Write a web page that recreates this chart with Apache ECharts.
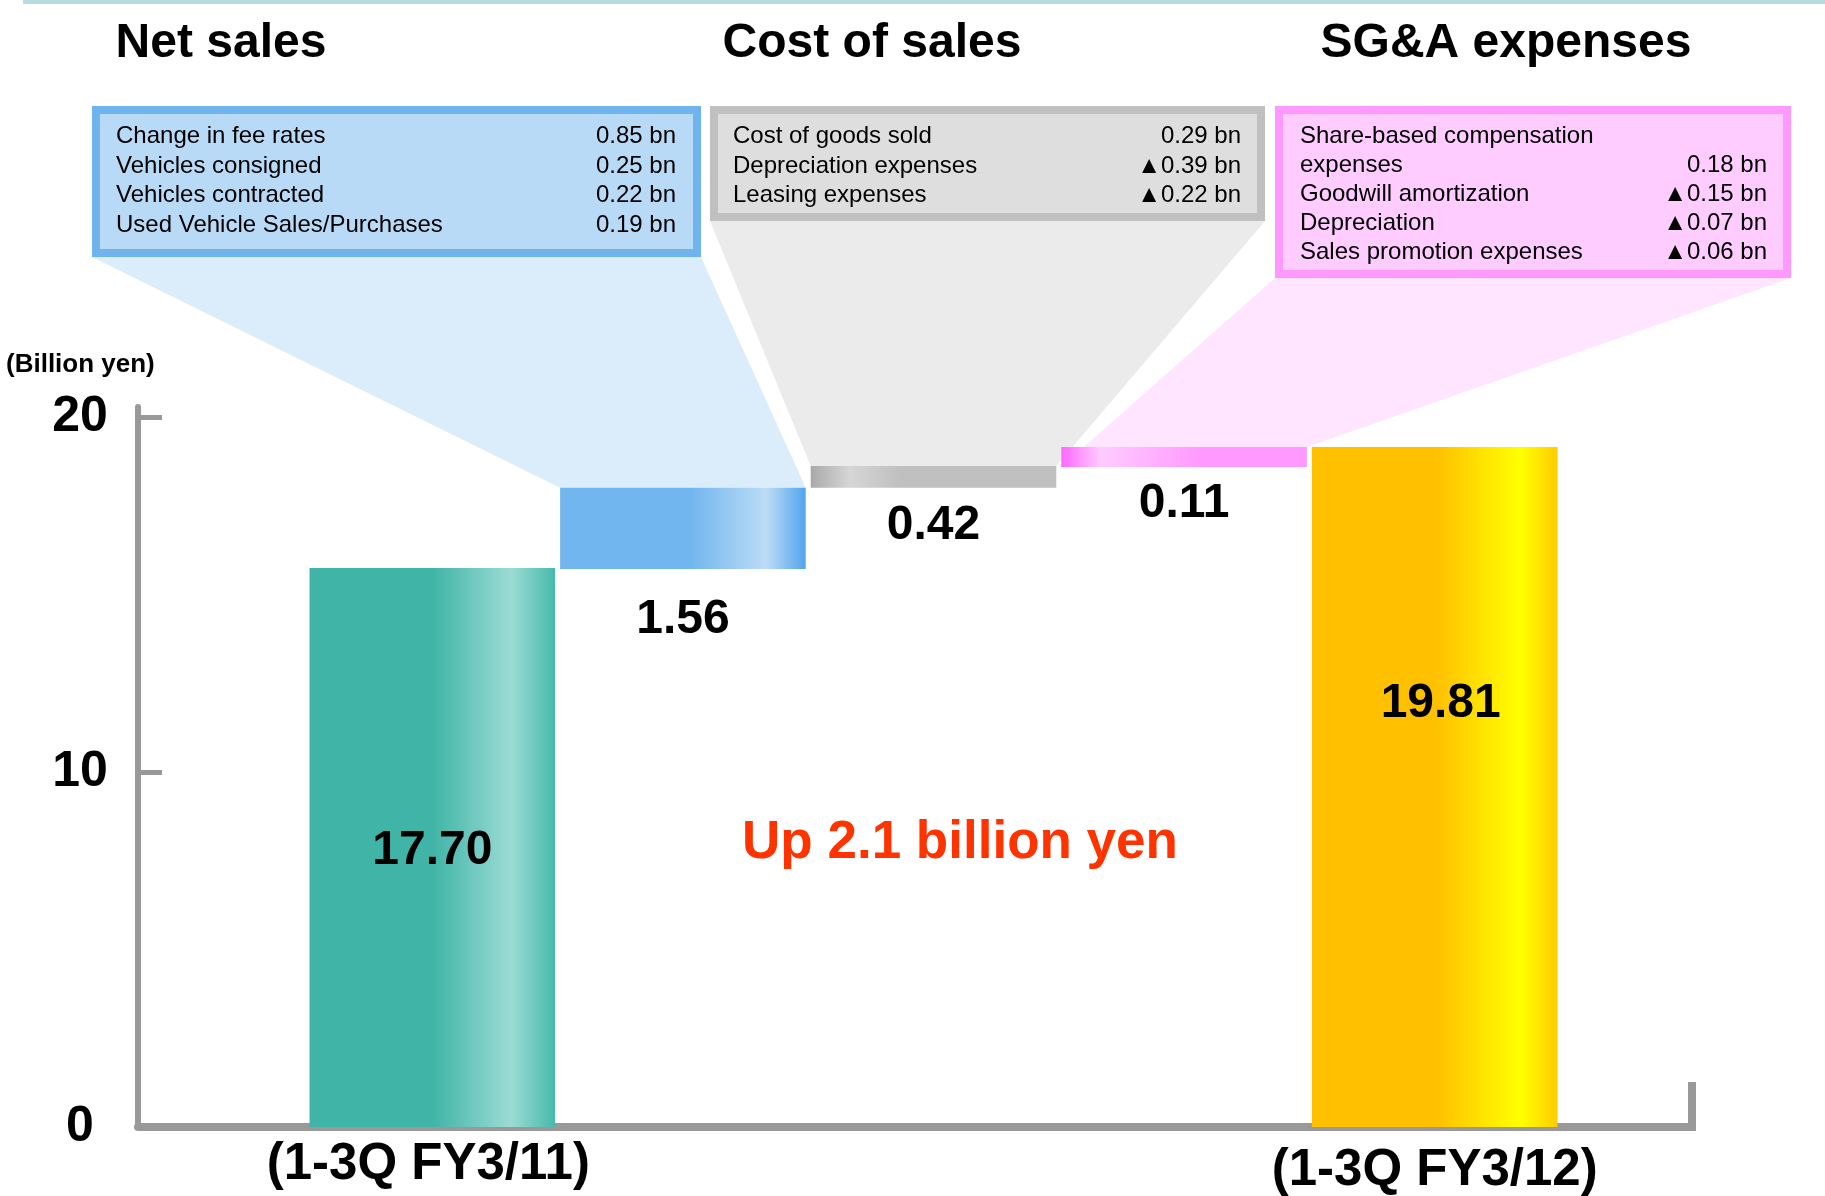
<!DOCTYPE html>
<html>
<head>
<meta charset="utf-8">
<script src="https://cdn.jsdelivr.net/npm/echarts@6/dist/echarts.min.js"></script>
<style>
html,body{margin:0;padding:0;background:#fff;}
#c{width:1825px;height:1196px;}
</style>
</head>
<body>
<div id="c"></div>
<script>
// ---------------- DATA ----------------
const categories = ['(1-3Q FY3/11)', 'Net sales', 'Cost of sales', 'SG&A expenses', '(1-3Q FY3/12)'];
const valueLabels = ['17.70', '1.56', '0.42', '0.11', '19.81'];
// bar extents as drawn in the picture (the picture is not drawn to scale)
const barBase   = [0, 15.73, 18.02, 18.61, 0];
const barLength = [15.76, 2.29, 0.62, 0.56, 19.17];
const yTicks = [0, 10, 20];
const unitLabel = '(Billion yen)';
const summaryText = 'Up 2.1 billion yen';
const panelTitles = ['Net sales', 'Cost of sales', 'SG&A expenses'];
const netSalesItems = [
  ['Change in fee rates', '0.85 bn'],
  ['Vehicles consigned', '0.25 bn'],
  ['Vehicles contracted', '0.22 bn'],
  ['Used Vehicle Sales/Purchases', '0.19 bn']
];
const costItems = [
  ['Cost of goods sold', '0.29 bn'],
  ['Depreciation expenses', '\u25B20.39 bn'],
  ['Leasing expenses', '\u25B20.22 bn']
];
const sgaItems = [
  ['Share-based compensation', ''],
  ['expenses', '0.18 bn'],
  ['Goodwill amortization', '\u25B20.15 bn'],
  ['Depreciation', '\u25B20.07 bn'],
  ['Sales promotion expenses', '\u25B20.06 bn']
];

// ---------------- STYLE ----------------
const FF = '"Liberation Sans", Arial, Helvetica, sans-serif';
function lg(stops){ return {type:'linear',x:0,y:0,x2:1,y2:0,colorStops:stops.map(s=>({offset:s[0],color:s[1]}))}; }
const barColors = [
  lg([[0,'#3fb4a7'],[0.5,'#40b4a7'],[0.82,'#9bdcd4'],[1,'#48b9ab']]),
  lg([[0,'#72b6ef'],[0.53,'#72b6ef'],[0.84,'#bcdcf6'],[1,'#52a4ec']]),
  lg([[0,'#a9a9a9'],[0.16,'#d6d6d6'],[0.36,'#c0c0c0'],[1,'#c0c0c0']]),
  lg([[0,'#ff66ff'],[0.16,'#ffccff'],[0.57,'#ff99ff'],[1,'#ff99ff']]),
  lg([[0,'#ffc000'],[0.5,'#ffc000'],[0.85,'#ffff00'],[1,'#ffcc00']])
];
const labelConf = [
  {position:'inside', offset:[0,3]},
  {position:'bottom', distance:26.5},
  {position:'bottom', distance:14},
  {position:'bottom', distance:13},
  {position:'insideTop', distance:233, offset:[6,0]}
];

const chart = echarts.init(document.getElementById('c'), null, {renderer:'canvas'});
const GT = 407, GB = 69;
chart.setOption({
  animation:false,
  backgroundColor:'#ffffff',
  grid:[
    {left:138, right:133, top:GT, bottom:GB, outerBoundsMode:'none', containLabel:false},
    {left:307, right:265, top:GT, bottom:GB, outerBoundsMode:'none', containLabel:false}
  ],
  xAxis:[
    {gridIndex:0, type:'value', min:0, max:1,
     axisLine:{show:true, onZero:false, lineStyle:{color:'#999999', width:8}},
     axisTick:{show:false}, axisLabel:{show:false}, splitLine:{show:false}},
    {gridIndex:1, type:'category', data:categories,
     axisLine:{show:false}, axisTick:{show:false},
     axisLabel:{interval:0, margin:12,
       formatter:function(v, i){ return i===0 ? '{a|'+v+'}' : (i===categories.length-1 ? '{b|'+v+'}' : ''); },
       rich:{
         a:{fontSize:51, fontWeight:'bold', color:'#000', fontFamily:FF, padding:[0,8,0,0]},
         b:{fontSize:51, fontWeight:'bold', color:'#000', fontFamily:FF, padding:[6,0,0,0]}
       }},
     splitLine:{show:false}}
  ],
  yAxis:[
    {gridIndex:0, type:'value', min:0, max:20.3,
     axisLine:{show:true, lineStyle:{color:'#999999', width:6}},
     axisTick:{show:true, inside:true, length:24, customValues:yTicks, lineStyle:{color:'#999999', width:5}},
     axisLabel:{customValues:yTicks, margin:58, align:'center', fontSize:50, fontWeight:'bold', color:'#000', fontFamily:FF},
     splitLine:{show:false}},
    {gridIndex:1, type:'value', min:0, max:20.3, show:false, splitLine:{show:false}}
  ],
  series:[
    {type:'bar', name:'base', xAxisIndex:1, yAxisIndex:1, stack:'w', silent:true,
     barCategoryGap:'2%', itemStyle:{color:'rgba(0,0,0,0)'}, data:barBase},
    {type:'bar', name:'value', xAxisIndex:1, yAxisIndex:1, stack:'w', z:3,
     barCategoryGap:'2%',
     label:{show:true, fontSize:48, fontWeight:'bold', color:'#000', fontFamily:FF,
            formatter:function(p){ return valueLabels[p.dataIndex]; }},
     data:barLength.map(function(v,i){ return {value:v, itemStyle:{color:barColors[i]}, label:labelConf[i]}; })}
  ]
});

// ---------------- DECORATION (boxes, funnels, texts) ----------------
function px(i, v){ return chart.convertToPixel({gridIndex:1}, [i, v]); }
const band = px(1,0)[0] - px(0,0)[0];
const half = band * 0.98 / 2;
function barRect(i){
  const cx = px(i,0)[0];
  return {x0:cx-half, x1:cx+half, yTop:px(i, barBase[i]+barLength[i])[1], yBot:px(i, barBase[i])[1]};
}
const bBlue = barRect(1), bGray = barRect(2), bPink = barRect(3);

const boxes = [
  {x0:92, x1:701, y0:106, y1:257, fill:'#b8daf6', stroke:'#70b4ee', funnel:'#dbecfa', items:netSalesItems, tx0:116, tx1:676, rows:[136.5,166,195.5,225.5]},
  {x0:710, x1:1265, y0:106, y1:221, fill:'#dedede', stroke:'#c0c0c0', funnel:'#ebebeb', items:costItems, tx0:733, tx1:1241, rows:[136.5,166,195.5]},
  {x0:1275, x1:1791, y0:106, y1:278, fill:'#ffccff', stroke:'#ff99ff', funnel:'rgba(255,204,255,0.5)', items:sgaItems, tx0:1300, tx1:1767, rows:[136.5,165.5,194.5,223.5,252.5]}
];
const funnelBottoms = [
  [[bBlue.x1, bBlue.yTop],[bBlue.x0, bBlue.yTop]],
  [[bGray.x1, bGray.yTop],[bGray.x0, bGray.yTop]],
  [[bPink.x1, bPink.yTop],[bPink.x0, bPink.yBot]]
];
const titleX = [221, 872, 1506];

const els = [];
els.push({type:'rect', shape:{x:23, y:0, width:1802, height:4}, style:{fill:'#b7dde0'}, z:0});
boxes.forEach(function(b, k){
  els.push({type:'polygon', z:0, shape:{points:[[b.x0,b.y1],[b.x1,b.y1],funnelBottoms[k][0],funnelBottoms[k][1]]}, style:{fill:b.funnel}});
});
boxes.forEach(function(b, k){
  els.push({type:'rect', z:10, shape:{x:b.x0+4, y:b.y0+4, width:b.x1-b.x0-8, height:b.y1-b.y0-8}, style:{fill:b.fill, stroke:b.stroke, lineWidth:8}});
  b.items.forEach(function(it, r){
    els.push({type:'text', z:11, x:b.tx0, y:b.rows[r], style:{text:it[0], fontSize:24, fontFamily:FF, fill:'#000', align:'left', verticalAlign:'middle'}});
    if (it[1]) els.push({type:'text', z:11, x:b.tx1, y:b.rows[r], style:{text:it[1], fontSize:24, fontFamily:FF, fill:'#000', align:'right', verticalAlign:'middle'}});
  });
  els.push({type:'text', z:11, x:titleX[k], y:43.5, style:{text:panelTitles[k], fontSize:48, fontWeight:'bold', fontFamily:FF, fill:'#000', align:'center', verticalAlign:'middle'}});
});
els.push({type:'text', z:11, x:6, y:365, style:{text:unitLabel, fontSize:26, fontWeight:'bold', fontFamily:FF, fill:'#000', align:'left', verticalAlign:'middle'}});
els.push({type:'text', z:11, x:960, y:843, style:{text:summaryText, fontSize:53, fontWeight:'bold', fontFamily:FF, fill:'#ff3300', align:'center', verticalAlign:'middle'}});
// right end stub of the baseline frame
const gridRight = 1825 - 133;
const baseY = chart.convertToPixel({gridIndex:0}, [0, 0])[1];
els.push({type:'line', z:5, shape:{x1:gridRight, y1:baseY-45, x2:gridRight, y2:baseY+4}, style:{stroke:'#999999', lineWidth:8}});

chart.setOption({graphic:{elements:els}});
</script>
</body>
</html>
